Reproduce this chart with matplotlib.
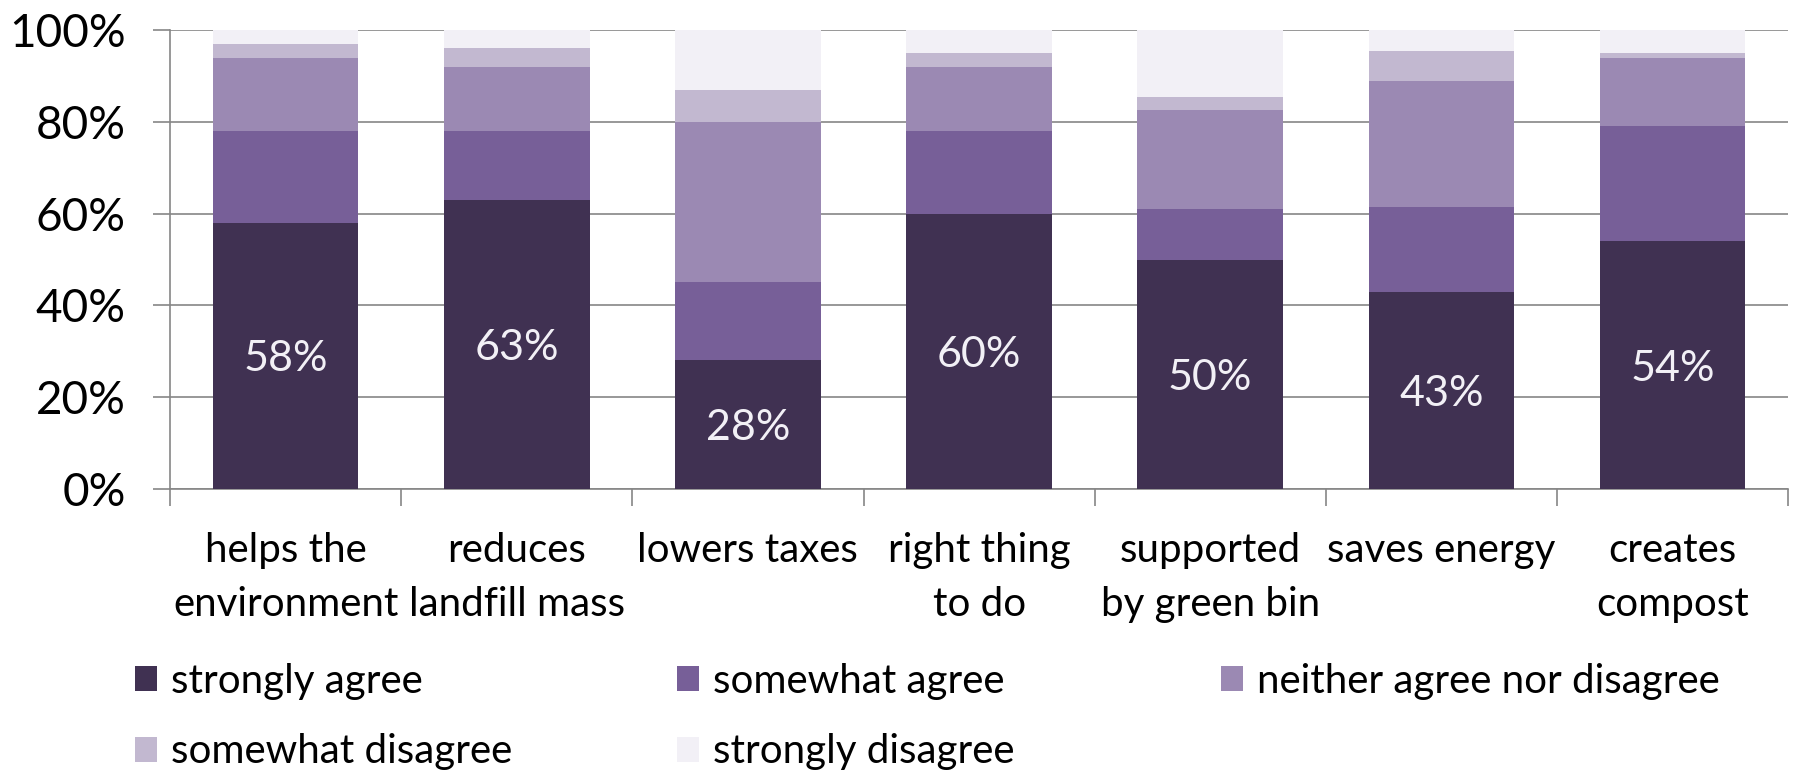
import matplotlib
matplotlib.use("Agg")
import matplotlib.pyplot as plt
import numpy as np
from matplotlib.patches import Patch

categories = ["helps the\nenvironment", "reduces\nlandfill mass", "lowers taxes",
              "right thing\nto do", "supported\nby green bin", "saves energy",
              "creates\ncompost"]
series_names = ["strongly agree", "somewhat agree", "neither agree nor disagree",
                "somewhat disagree", "strongly disagree"]
strongly_agree = [58, 63, 28, 60, 50, 43, 54]
somewhat_agree = [20, 15, 17, 18, 11, 18.5, 25]
neither = [16, 14, 35, 14, 21.5, 27.5, 15]
somewhat_disagree = [3, 4, 7, 3, 3, 6.5, 1]
strongly_disagree = [3, 4, 13, 5, 14.5, 5, 5]
data_labels = ["58%", "63%", "28%", "60%", "50%", "43%", "54%"]

colors = ["#403152", "#775F98", "#9B89B3", "#C2B8D0", "#F2F0F6"]

plt.rcParams['font.family'] = ['Lato', 'DejaVu Sans']

fig = plt.figure(figsize=(17.94, 7.72), dpi=100)
ax = fig.add_axes([0.0948, 0.3666, 0.9967 - 0.0948, 0.9611 - 0.3666])

series = [strongly_agree, somewhat_agree, neither, somewhat_disagree, strongly_disagree]
x = np.arange(len(categories))
bottom = np.zeros(len(categories))
for vals, col, name in zip(series, colors, series_names):
    vals = np.array(vals, dtype=float)
    ax.bar(x, vals, 0.63, bottom=bottom, color=col, label=name, zorder=3, linewidth=0)
    bottom += vals

for xi, v, lab in zip(x, strongly_agree, data_labels):
    ax.text(xi, v / 2, lab, ha='center', va='center_baseline', color='#F2F0F6',
            fontsize=31, zorder=4)

ax.set_xlim(-0.5, len(categories) - 0.5)
ax.set_ylim(0, 100)
ax.set_yticks([0, 20, 40, 60, 80, 100])
ax.set_yticklabels(["0%", "20%", "40%", "60%", "80%", "100%"], fontsize=33)
ax.yaxis.grid(True, color='#868686', linewidth=1.2, zorder=0)
ax.set_axisbelow(True)

ax.set_xticks(x)
ax.set_xticklabels(categories, fontsize=29, linespacing=1.55)
ax.set_xticks(np.arange(-0.5, len(categories)), minor=True)
ax.tick_params(axis='x', which='major', length=0, pad=31)
ax.tick_params(axis='x', which='minor', length=12, width=1.2, color='#868686')
ax.tick_params(axis='y', length=12, width=1.2, color='#868686', pad=20)

for s in ['top', 'right']:
    ax.spines[s].set_visible(False)
for s in ['left', 'bottom']:
    ax.spines[s].set_color('#868686')
    ax.spines[s].set_linewidth(1.2)

# legend entries placed individually (3 columns, 2 rows)
pos_x = [135, 677, 1221, 135, 677]
pos_y = [681, 681, 681, 752, 752]
for name, col, px, py in zip(series_names, colors, pos_x, pos_y):
    fig.legend(handles=[Patch(facecolor=col, edgecolor='none')], labels=[name],
               loc='center left', bbox_to_anchor=(px / 1794, 1 - py / 772),
               frameon=False, borderpad=0, borderaxespad=0, fontsize=29,
               handlelength=0.55, handleheight=0.6, handletextpad=0.35)

fig.savefig("out.png", dpi=100)
